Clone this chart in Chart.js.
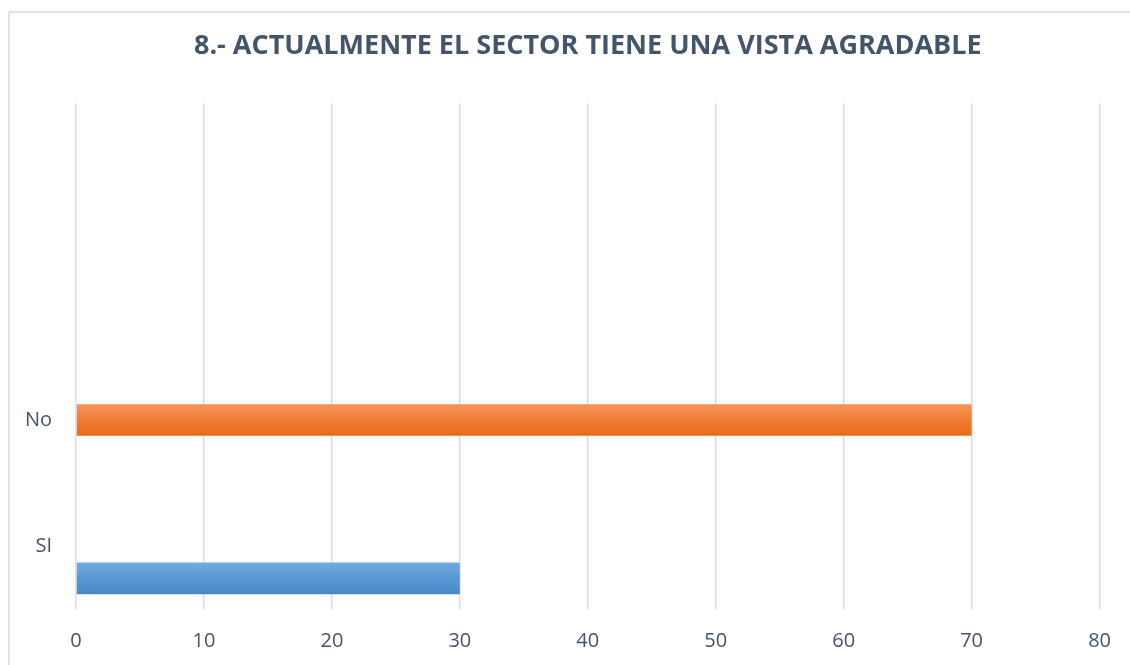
<!DOCTYPE html>
<html>
<head>
<meta charset="utf-8">
<script src="https://cdn.jsdelivr.net/npm/chart.js@4/dist/chart.umd.min.js"></script>
<style>
  html, body { margin: 0; padding: 0; background: #fff; }
  #wrap { position: relative; width: 1130px; height: 665px; overflow: hidden; }
  #frame { position: absolute; left: 8px; top: 11px; width: 1200px; height: 700px;
           border-left: 2px solid #dfe3ea; border-top: 2px solid #dfe3ea; }
  canvas { position: absolute; left: 0; top: 0; }
</style>
</head>
<body>
<div id="wrap">
  <div id="frame"></div>
  <canvas id="chart" width="1130" height="665"></canvas>
</div>
<script>
// Data
const categories = ['', '', 'No', 'SI'];
const blankValues = [null, null, null, null];
const noValues = [null, null, 70, null];
const siValues = [null, null, null, 30];
const xTicks = [0, 10, 20, 30, 40, 50, 60, 70, 80];

const textColor = '#44546a';
const gridColor = '#d9dee7';

// vertical gradients like the Excel bars
const gradients = {
  1: ['#f5955a', '#f07d32', '#e56a1c'],
  2: ['#74abdf', '#5899d6', '#4787c6']
};

const barGradient = {
  id: 'barGradient',
  beforeDatasetsDraw(chart) {
    const ctx = chart.ctx;
    chart.data.datasets.forEach((ds, i) => {
      const stops = gradients[i];
      if (!stops) return;
      chart.getDatasetMeta(i).data.forEach((el, j) => {
        if (ds.data[j] == null) return;
        const top = el.y - el.height / 2;
        const g = ctx.createLinearGradient(0, top, 0, top + el.height);
        g.addColorStop(0, stops[0]);
        g.addColorStop(0.5, stops[1]);
        g.addColorStop(1, stops[2]);
        el.options.backgroundColor = g;
      });
    });
  }
};

new Chart(document.getElementById('chart'), {
  type: 'bar',
  data: {
    labels: categories,
    datasets: [
      { label: 'Serie 3', data: blankValues, backgroundColor: 'rgba(0,0,0,0)' },
      { label: 'No', data: noValues, backgroundColor: '#ed7d31' },
      { label: 'SI', data: siValues, backgroundColor: '#5b9bd5' }
    ]
  },
  options: {
    indexAxis: 'y',
    responsive: false,
    animation: false,
    categoryPercentage: 0.75,
    barPercentage: 1.0,
    layout: { padding: { left: 0, right: 30, top: 0, bottom: 0 } },
    plugins: {
      legend: { display: false },
      tooltip: { enabled: false },
      title: {
        display: true,
        text: '8.- ACTUALMENTE EL SECTOR TIENE UNA VISTA AGRADABLE',
        color: textColor,
        fullSize: false,
        font: { family: 'Open Sans', size: 27, weight: 'bold' },
        padding: { top: 30, bottom: 41 }
      }
    },
    scales: {
      x: {
        min: 0,
        max: 80,
        afterBuildTicks: s => { s.ticks = xTicks.map(v => ({ value: v })); },
        afterFit: s => { s.height = 55; },
        grid: { color: gridColor, lineWidth: 1.5, drawTicks: false },
        border: { display: false },
        ticks: { color: textColor, padding: 19, font: { family: 'Open Sans', size: 20 } }
      },
      y: {
        afterFit: s => { s.width = 76; },
        grid: { display: false, drawTicks: false },
        border: { display: false },
        ticks: { color: textColor, padding: 24, font: { family: 'Open Sans', size: 20 } }
      }
    }
  },
  plugins: [barGradient]
});
</script>
</body>
</html>
